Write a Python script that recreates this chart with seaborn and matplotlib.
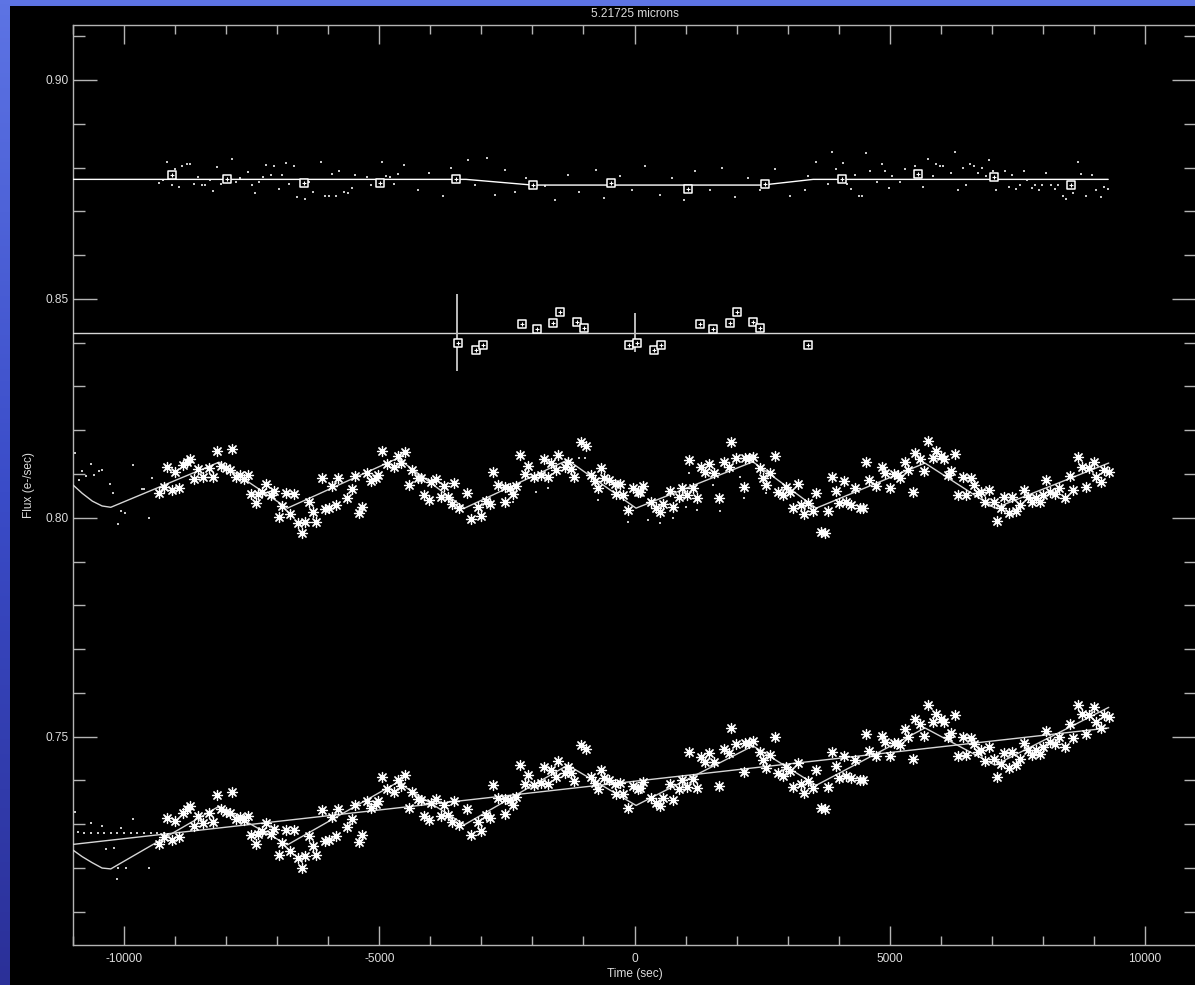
import numpy as np
import pandas as pd
import matplotlib
matplotlib.use("Agg")
import matplotlib.pyplot as plt
from matplotlib.colors import LinearSegmentedColormap
from matplotlib.patches import Rectangle
import seaborn as sns

# ---------------------------------------------------------------- data
title = "5.21725 microns"
x_label = "Time (sec)"
y_label = "Flux (e-/sec)"

# binned light-curve samples (asterisks): time, detrended flux, raw flux
star_time = [
    -9310, -9220, -9160, -9070, -9000, -8920, -8840, -8760, -8710, -8630,
    -8560, -8460, -8330, -8260, -8170, -8100, -8010, -7930, -7880, -7810,
    -7730, -7650, -7570, -7520, -7420, -7370, -7290, -7210, -7120, -7060,
    -6970, -6900, -6820, -6750, -6670, -6600, -6520, -6450, -6370, -6290,
    -6230, -6130, -6060, -5980, -5920, -5850, -5800, -5640, -5540, -5480,
    -5390, -5330, -5240, -5160, -5060, -5030, -4940, -4840, -4720, -4640,
    -4570, -4490, -4410, -4350, -4250, -4180, -4120, -4030, -3990, -3890,
    -3800, -3740, -3660, -3580, -3530, -3430, -3280, -3200, -3070, -3010,
    -2910, -2840, -2780, -2680, -2540, -2540, -2430, -2390, -2320, -2240,
    -2140, -2080, -1960, -1830, -1780, -1700, -1630, -1540, -1490, -1370,
    -1310, -1240, -1190, -1050, -950, -860, -780, -720, -650, -590,
    -500, -390, -360, -280, -220, -130, -30, 60, 110, 160,
    330, 430, 490, 550, 700, 760, 880, 940, 1030, 1060,
    1140, 1220, 1310, 1390, 1460, 1550, 1650, 1760, 1850, 1900,
    1990, 2140, 2160, 2240, 2330, 2450, 2520, 2580, 2660, 2750,
    2810, 2900, 2970, 3050, 3100, 3200, 3270, 3330, 3400, 3500,
    3560, 3660, 3730, 3790, 3870, 3940, 4010, 4100, 4150, 4250,
    4310, 4410, 4480, 4540, 4590, 4740, 4840, 4900, 5000, 5080,
    5160, 5200, 5290, 5360, 5460, 5500, 5590, 5670, 5740, 5850,
    5900, 6000, 6060, 6140, 6200, 6270, 6340, 6440, 6500, 6590,
    6650, 6730, 6780, 6860, 6940, 7050, 7100, 7180, 7240, 7330,
    7390, 7480, 7550, 7630, 7710, 7780, 7860, 7940, 8010, 8070,
    8140, 8240, 8310, 8430, 8530, 8590, 8690, 8760, 8840, 8900,
    9010, 9050, 9140, 9200, 9290,
]
star_flux_corr = [
    0.8057, 0.8070, 0.8115, 0.8064, 0.8105, 0.8069, 0.8121, 0.8128, 0.8134, 0.8089,
    0.8111, 0.8094, 0.8113, 0.8094, 0.8153, 0.8119, 0.8113, 0.8109, 0.8157, 0.8094,
    0.8098, 0.8089, 0.8098, 0.8054, 0.8033, 0.8054, 0.8060, 0.8077, 0.8051, 0.8061,
    0.8001, 0.8027, 0.8056, 0.8008, 0.8054, 0.7989, 0.7966, 0.7991, 0.8037, 0.8013,
    0.7991, 0.8092, 0.8020, 0.8022, 0.8073, 0.8029, 0.8090, 0.8046, 0.8065, 0.8096,
    0.8010, 0.8025, 0.8102, 0.8083, 0.8092, 0.8098, 0.8153, 0.8123, 0.8115, 0.8141,
    0.8126, 0.8151, 0.8075, 0.8109, 0.8092, 0.8090, 0.8052, 0.8041, 0.8081, 0.8088,
    0.8048, 0.8073, 0.8048, 0.8031, 0.8080, 0.8023, 0.8056, 0.7997, 0.8025, 0.8003,
    0.8038, 0.8031, 0.8105, 0.8075, 0.8071, 0.8036, 0.8067, 0.8054, 0.8073, 0.8144,
    0.8099, 0.8119, 0.8094, 0.8098, 0.8134, 0.8094, 0.8125, 0.8109, 0.8144, 0.8115,
    0.8127, 0.8112, 0.8094, 0.8174, 0.8163, 0.8098, 0.8084, 0.8069, 0.8113, 0.8092,
    0.8086, 0.8077, 0.8054, 0.8077, 0.8051, 0.8018, 0.8067, 0.8060, 0.8060, 0.8073,
    0.8036, 0.8022, 0.8014, 0.8031, 0.8061, 0.8025, 0.8048, 0.8069, 0.8052, 0.8131,
    0.8067, 0.8046, 0.8115, 0.8104, 0.8123, 0.8102, 0.8045, 0.8127, 0.8117, 0.8174,
    0.8137, 0.8071, 0.8136, 0.8136, 0.8140, 0.8113, 0.8092, 0.8075, 0.8103, 0.8142,
    0.8060, 0.8051, 0.8071, 0.8060, 0.8023, 0.8077, 0.8029, 0.8008, 0.8033, 0.8016,
    0.8056, 0.7968, 0.7965, 0.8016, 0.8094, 0.8061, 0.8033, 0.8083, 0.8036, 0.8029,
    0.8069, 0.8023, 0.8022, 0.8127, 0.8086, 0.8073, 0.8117, 0.8102, 0.8069, 0.8099,
    0.8098, 0.8092, 0.8127, 0.8109, 0.8058, 0.8147, 0.8134, 0.8107, 0.8176, 0.8136,
    0.8153, 0.8142, 0.8134, 0.8098, 0.8107, 0.8146, 0.8051, 0.8094, 0.8052, 0.8090,
    0.8075, 0.8056, 0.8060, 0.8035, 0.8064, 0.8036, 0.7993, 0.8022, 0.8047, 0.8012,
    0.8048, 0.8016, 0.8029, 0.8064, 0.8048, 0.8036, 0.8046, 0.8036, 0.8051, 0.8086,
    0.8060, 0.8054, 0.8069, 0.8045, 0.8096, 0.8064, 0.8138, 0.8117, 0.8071, 0.8113,
    0.8128, 0.8094, 0.8081, 0.8109, 0.8104,
]
star_flux_raw = [
    0.7256, 0.7270, 0.7315, 0.7265, 0.7308, 0.7272, 0.7325, 0.7334, 0.7341, 0.7296,
    0.7319, 0.7304, 0.7325, 0.7306, 0.7367, 0.7334, 0.7329, 0.7326, 0.7374, 0.7312,
    0.7317, 0.7309, 0.7319, 0.7276, 0.7256, 0.7278, 0.7285, 0.7303, 0.7278, 0.7289,
    0.7230, 0.7257, 0.7287, 0.7240, 0.7287, 0.7223, 0.7201, 0.7227, 0.7274, 0.7251,
    0.7230, 0.7332, 0.7261, 0.7264, 0.7316, 0.7273, 0.7335, 0.7293, 0.7313, 0.7345,
    0.7260, 0.7276, 0.7354, 0.7336, 0.7346, 0.7353, 0.7409, 0.7380, 0.7374, 0.7401,
    0.7387, 0.7413, 0.7338, 0.7373, 0.7357, 0.7356, 0.7319, 0.7309, 0.7349, 0.7358,
    0.7319, 0.7345, 0.7321, 0.7305, 0.7354, 0.7299, 0.7334, 0.7276, 0.7305, 0.7284,
    0.7321, 0.7314, 0.7389, 0.7361, 0.7358, 0.7323, 0.7356, 0.7343, 0.7363, 0.7435,
    0.7392, 0.7412, 0.7389, 0.7395, 0.7431, 0.7392, 0.7424, 0.7409, 0.7445, 0.7418,
    0.7430, 0.7416, 0.7399, 0.7481, 0.7471, 0.7407, 0.7394, 0.7380, 0.7425, 0.7405,
    0.7400, 0.7392, 0.7370, 0.7394, 0.7369, 0.7337, 0.7387, 0.7381, 0.7382, 0.7396,
    0.7361, 0.7348, 0.7341, 0.7359, 0.7391, 0.7356, 0.7380, 0.7402, 0.7386, 0.7465,
    0.7403, 0.7383, 0.7453, 0.7443, 0.7463, 0.7443, 0.7387, 0.7471, 0.7462, 0.7520,
    0.7484, 0.7420, 0.7485, 0.7486, 0.7491, 0.7466, 0.7446, 0.7429, 0.7459, 0.7499,
    0.7417, 0.7410, 0.7431, 0.7421, 0.7384, 0.7440, 0.7392, 0.7372, 0.7398, 0.7382,
    0.7423, 0.7337, 0.7335, 0.7386, 0.7465, 0.7433, 0.7406, 0.7457, 0.7411, 0.7405,
    0.7446, 0.7401, 0.7401, 0.7507, 0.7467, 0.7456, 0.7501, 0.7487, 0.7455, 0.7486,
    0.7486, 0.7481, 0.7517, 0.7500, 0.7450, 0.7540, 0.7528, 0.7502, 0.7572, 0.7533,
    0.7551, 0.7541, 0.7534, 0.7499, 0.7509, 0.7549, 0.7455, 0.7499, 0.7458, 0.7497,
    0.7483, 0.7465, 0.7469, 0.7445, 0.7476, 0.7449, 0.7407, 0.7437, 0.7462, 0.7429,
    0.7465, 0.7435, 0.7449, 0.7485, 0.7470, 0.7459, 0.7470, 0.7461, 0.7477, 0.7512,
    0.7487, 0.7483, 0.7499, 0.7476, 0.7528, 0.7497, 0.7572, 0.7552, 0.7507, 0.7550,
    0.7567, 0.7533, 0.7521, 0.7550, 0.7546,
]

# ramp model through the light curve (detrended and raw)
model_time = [-11000, -10820, -10620, -10430, -10260, -8140, -6800, -4640,
              -3330, -1310, 30, 2320, 3560, 5690, 7060, 9290]
model_flux_corr = [0.8075, 0.8056, 0.8038, 0.8027, 0.8024, 0.8127, 0.8022, 0.8136,
                   0.8022, 0.8132, 0.8022, 0.8128, 0.8022, 0.8125, 0.8022, 0.8125]
model_flux_raw = [0.7241, 0.7226, 0.7212, 0.7200, 0.7198, 0.7341, 0.7253, 0.7396,
                  0.7299, 0.7435, 0.7343, 0.7479, 0.7389, 0.7520, 0.7435, 0.7567]

# linear baseline fit of the raw flux
trend_time = [-11000, 9290]
trend_flux = [0.7254, 0.7520]

# unbinned samples (small dots)
dot_time_corr = [-10960, -10650, -10820, -10750, -10590, -10500, -10440, -10880,
                 -10280, -10210, -10060, -9980, -10110, -9820, -9460, -9650,
                 -9610, -9520, -1930, -1700, -1080, -970, -720, -2390, -130,
                 260, 490, 760, 1000, 1220, 1060, 1540, 1670, 2060, 2140, 2570]
dot_flux_corr = [0.8148, 0.8122, 0.8107, 0.8096, 0.8098, 0.8107, 0.8109, 0.8086,
                 0.8077, 0.8057, 0.8016, 0.8010, 0.7986, 0.8121, 0.8090, 0.8066,
                 0.8066, 0.8000, 0.8060, 0.8067, 0.8136, 0.8136, 0.8041, 0.8037,
                 0.7991, 0.7995, 0.7989, 0.7999, 0.8025, 0.8018, 0.8103, 0.8075,
                 0.8016, 0.8093, 0.8046, 0.8056]
dot_time_raw = [-10960, -10650, -10900, -10440, -9820, -10050, -10360, -10200,
                -10110, -9970, -9520, -10130, -10780, -10650, -10520, -10390,
                -10260, -10130, -10000, -9870, -9740, -9610, -9480, -9350, -9220]
dot_flux_raw = [0.7327, 0.7304, 0.7283, 0.7295, 0.7312, 0.7291, 0.7244, 0.7245,
                0.7201, 0.7200, 0.7200, 0.7175, 0.7280, 0.7280, 0.7280, 0.7280,
                0.7280, 0.7280, 0.7280, 0.7280, 0.7280, 0.7280, 0.7280, 0.7280,
                0.7280]

# reference star: binned points (squares), unbinned dots and its model
ref_time = [-9060, -7980, -6470, -4980, -3490, -1980, -470, 1040, 2550, 4060,
            5550, 7040, 8550]
ref_flux = [0.8783, 0.8774, 0.8765, 0.8765, 0.8774, 0.8760, 0.8765, 0.8751,
            0.8762, 0.8774, 0.8785, 0.8778, 0.8760]
ref_model_time = [-11000, -3300, -2000, 2500, 3500, 9280]
ref_model_flux = [0.8773, 0.8773, 0.8760, 0.8760, 0.8773, 0.8773]
ref_dot_time = [
    -9160, -9010, -8860, -8770, -8710, -9310, -9230, -9070, -8920, -8560,
    -8630, -8480, -8410, -8320, -8250, -8170, -8100, -7880, -7810, -7730,
    -7570, -7500, -7430, -7350, -7270, -7210, -7120, -7060, -6970, -6910,
    -6820, -6760, -6670, -6610, -6450, -6370, -6290, -6140, -6070, -5990,
    -5920, -5840, -5780, -5690, -5620, -5540, -5470, -5240, -5160, -4940,
    -4870, -4790, -4720, -4630,
    -4510, -4250, -4020, -3760, -3590, -3270, -3120, -2880, -2730, -2530,
    -2350, -2120, -1760, -1550, -1310, -1080, -760, -590, -290, -40,
    200, 490, 730, 960, 1180, 1470, 1710, 1960, 2220, 2450, 2750, 3040,
    3860, 3560, 4090, 4540, 4840, 3400, 3940, 4310, 4610, 4910,
    5050, 5290, 5500, 5750, 5840, 5900, 5980, 6050, 6280, 6200,
    6430, 6580, 6650, 6800, 6950, 6730, 6880, 7030, 7250, 7390,
    7630, 8070, 8680, 8750, 8970, 3340, 3790, 4160, 4240, 4760,
    4990, 5210, 5660, 6340, 6490, 7090, 7330, 7480, 7550, 7690,
    7780, 7850, 7930, 7990, 8150, 8230, 8290, 8390, 8450, 8840,
    9050, 9140, 9200, 9280, 8590, 4390, 4460,
]
ref_dot_flux = [
    0.8813, 0.8796, 0.8804, 0.8807, 0.8809, 0.8765, 0.8771, 0.8759, 0.8756, 0.8778,
    0.8762, 0.8759, 0.8759, 0.8771, 0.8746, 0.8801, 0.8763, 0.8820, 0.8766, 0.8775,
    0.8790, 0.8759, 0.8741, 0.8768, 0.8778, 0.8806, 0.8784, 0.8804, 0.8751, 0.8784,
    0.8811, 0.8762, 0.8804, 0.8732, 0.8728, 0.8768, 0.8744, 0.8813, 0.8736, 0.8736,
    0.8786, 0.8736, 0.8791, 0.8745, 0.8741, 0.8753, 0.8784, 0.8778, 0.8759, 0.8813,
    0.8781, 0.8778, 0.8763, 0.8786,
    0.8806, 0.8749, 0.8788, 0.8735, 0.8799, 0.8817, 0.8760, 0.8822, 0.8737, 0.8794,
    0.8744, 0.8776, 0.8758, 0.8726, 0.8783, 0.8744, 0.8794, 0.8730, 0.8781, 0.8749,
    0.8804, 0.8737, 0.8776, 0.8726, 0.8792, 0.8749, 0.8799, 0.8733, 0.8776, 0.8749,
    0.8797, 0.8735,
    0.8836, 0.8813, 0.8811, 0.8833, 0.8808, 0.8781, 0.8797, 0.8784, 0.8791, 0.8793,
    0.8781, 0.8796, 0.8804, 0.8820, 0.8781, 0.8807, 0.8804, 0.8804, 0.8836, 0.8788,
    0.8798, 0.8807, 0.8804, 0.8798, 0.8818, 0.8788, 0.8781, 0.8793, 0.8793, 0.8784,
    0.8791, 0.8788, 0.8813, 0.8786, 0.8784, 0.8748, 0.8762, 0.8763, 0.8751, 0.8768,
    0.8753, 0.8768, 0.8756, 0.8748, 0.8761, 0.8748, 0.8756, 0.8751, 0.8761, 0.8771,
    0.8753, 0.8761, 0.8748, 0.8761, 0.8759, 0.8751, 0.8761, 0.8736, 0.8728, 0.8736,
    0.8748, 0.8733, 0.8756, 0.8751, 0.8743, 0.8736, 0.8736,
]

# comparison points around the mean level, with two error bars
cmp_level = 0.8423
cmp_time = [-3450, -3100, -2960, -2200, -1910, -1590, -1460, -1120, -990, -100,
            40, 390, 520, 1280, 1540, 1880, 2010, 2330, 2460, 3390]
cmp_flux = [0.8399, 0.8383, 0.8395, 0.8443, 0.8431, 0.8446, 0.8469, 0.8448,
            0.8433, 0.8395, 0.8399, 0.8383, 0.8395, 0.8443, 0.8431, 0.8446,
            0.8469, 0.8448, 0.8433, 0.8395]
err_time = [-3470, 0]
err_size = [0.0088, 0.0045]

x_ticks = [-10000, -5000, 0, 5000, 10000]
y_ticks = [0.75, 0.80, 0.85, 0.90]

# ---------------------------------------------------------------- style
sns.set_style("dark")
plt.rcParams["font.family"] = ["Liberation Sans", "DejaVu Sans"]
plt.rcParams["axes.unicode_minus"] = False

W, H = 1195, 985
fig = plt.figure(figsize=(W / 100, H / 100), dpi=100)

# slide background: blue gradient with a black panel
bg = fig.add_axes([0, 0, 1, 1], zorder=-5)
grad = np.linspace(0, 1, 256)[:, None]
slide = LinearSegmentedColormap.from_list("slide", ["#5d74e4", "#3a4cc8", "#2b3098"])
bg.imshow(grad, aspect="auto", cmap=slide, extent=[0, 1, 0, 1])
bg.set_axis_off()
fig.add_artist(Rectangle((10 / W, 0), 1, 1 - 6 / H, transform=fig.transFigure,
                         facecolor="black", edgecolor="none", zorder=-4))

ax = fig.add_axes([73 / W, (H - 944.7) / H, 1123 / W, (944.7 - 25) / H])
ax.set_facecolor("black")

line_col = "#d6d6d6"
dot_col = "#c8c8c8"
star_marker = (8, 2, 0)
star_size = 52
box_size = 38

# reference star
sns.scatterplot(x=ref_dot_time, y=ref_dot_flux, ax=ax, marker="s", s=2.2,
                color=dot_col, linewidth=0, zorder=2)
sns.lineplot(x=ref_model_time, y=ref_model_flux, ax=ax, sort=False, estimator=None,
             color="white", linewidth=1.0, zorder=3)
sns.scatterplot(x=ref_time, y=ref_flux, ax=ax, marker="s", s=box_size,
                color="black", edgecolor="white", linewidth=1.1, zorder=4)
sns.scatterplot(x=ref_time, y=ref_flux, ax=ax, marker="+", s=12,
                color="white", linewidth=0.8, zorder=5)

# comparison points
ax.axhline(cmp_level, color=line_col, linewidth=1.0, zorder=3)
ax.errorbar(err_time, [cmp_level] * len(err_time), yerr=err_size, fmt="none",
            ecolor="#bdbdbd", elinewidth=1.4, capsize=0, zorder=3)
sns.scatterplot(x=cmp_time, y=cmp_flux, ax=ax, marker="s", s=box_size,
                color="black", edgecolor="white", linewidth=1.1, zorder=4)
sns.scatterplot(x=cmp_time, y=cmp_flux, ax=ax, marker="+", s=12,
                color="white", linewidth=0.8, zorder=5)

# detrended light curve
sns.scatterplot(x=dot_time_corr, y=dot_flux_corr, ax=ax, marker="s", s=2.2,
                color=dot_col, linewidth=0, zorder=2)
sns.lineplot(x=model_time, y=model_flux_corr, ax=ax, sort=False, estimator=None,
             color=line_col, linewidth=1.0, zorder=3)
sns.scatterplot(x=star_time, y=star_flux_corr, ax=ax, marker=star_marker, s=star_size,
                color="white", linewidth=0.9, zorder=4)

# raw light curve with baseline
sns.scatterplot(x=dot_time_raw, y=dot_flux_raw, ax=ax, marker="s", s=2.2,
                color=dot_col, linewidth=0, zorder=2)
sns.lineplot(x=trend_time, y=trend_flux, ax=ax, sort=False, estimator=None,
             color=line_col, linewidth=1.0, zorder=3)
sns.lineplot(x=model_time, y=model_flux_raw, ax=ax, sort=False, estimator=None,
             color=line_col, linewidth=1.0, zorder=3)
sns.scatterplot(x=star_time, y=star_flux_raw, ax=ax, marker=star_marker, s=star_size,
                color="white", linewidth=0.9, zorder=4)

# ---------------------------------------------------------------- axes
ax.set_xlim(-11000, 11000)
ax.set_ylim(0.70249, 0.91256)
ax.set_xticks(x_ticks)
ax.set_xticklabels([str(v) for v in x_ticks])
ax.set_xticks(np.arange(-11000, 11001, 1000), minor=True)
ax.set_yticks(y_ticks)
ax.set_yticklabels([f"{v:.2f}" for v in y_ticks])
ax.set_yticks(np.arange(0.71, 0.911, 0.01), minor=True)
ax.grid(False)

spine_col = "#b4b4b4"
for s in ax.spines.values():
    s.set_visible(True)
    s.set_color(spine_col)
    s.set_linewidth(1.0)

ax.tick_params(axis="x", which="major", direction="in", length=13.7, width=1.0,
               color=spine_col, top=True, bottom=True, labelsize=8.6,
               labelcolor="#dcdcdc", pad=6)
ax.tick_params(axis="x", which="minor", direction="in", length=6.5, width=1.0,
               color=spine_col, top=True, bottom=True)
ax.tick_params(axis="y", which="major", direction="in", length=17.3, width=1.0,
               color=spine_col, left=True, right=True, labelsize=8.6,
               labelcolor="#dcdcdc", pad=3.5)
ax.tick_params(axis="y", which="minor", direction="in", length=8.6, width=1.0,
               color=spine_col, left=True, right=True)

ax.set_xlabel(x_label, color="#dcdcdc", fontsize=8.6, labelpad=2)
ax.set_ylabel(y_label, color="#dcdcdc", fontsize=8.6, labelpad=7)
ax.set_title(title, color="#dcdcdc", fontsize=8.6, pad=6)

fig.savefig("out.png", dpi=100, facecolor=fig.get_facecolor())
